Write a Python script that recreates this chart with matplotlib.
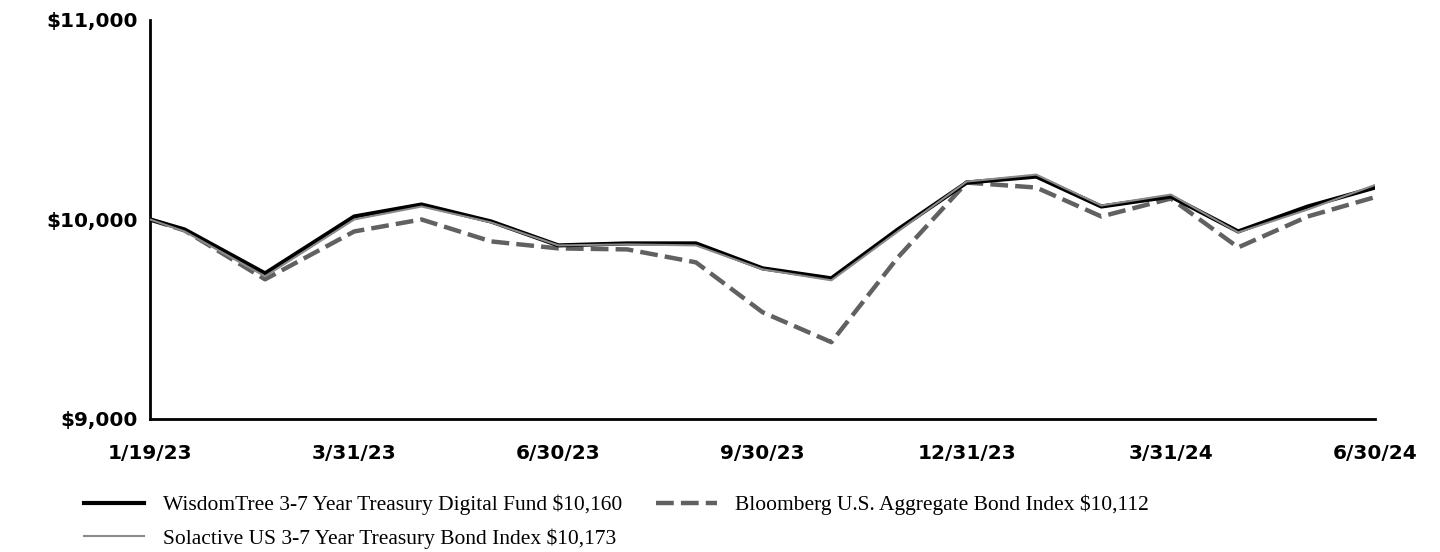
import numpy as np
import pandas as pd
import matplotlib
matplotlib.use("Agg")
import matplotlib.pyplot as plt
import matplotlib.ticker as mticker
import matplotlib.dates as mdates

# ------------------ Data ------------------
dates = ["2023-01-19", "2023-01-31", "2023-02-28", "2023-03-31", "2023-04-30",
         "2023-05-31", "2023-06-30", "2023-07-31", "2023-08-31", "2023-09-30",
         "2023-10-31", "2023-11-30", "2023-12-31", "2024-01-31", "2024-02-29",
         "2024-03-31", "2024-04-30", "2024-05-31", "2024-06-30"]

fund = [10000, 9950, 9730, 10015, 10075, 9990, 9870, 9880, 9880, 9755,
        9705, 9950, 10185, 10215, 10065, 10115, 9940, 10065, 10160]
bloomberg = [10000, 9945, 9700, 9940, 10000, 9890, 9855, 9850, 9785, 9535,
             9385, 9810, 10185, 10160, 10015, 10105, 9860, 10015, 10112]
solactive = [10000, 9940, 9715, 10000, 10065, 9985, 9870, 9875, 9870, 9750,
             9695, 9940, 10190, 10225, 10070, 10125, 9935, 10050, 10173]

tick_dates = ["2023-01-19", "2023-03-31", "2023-06-30", "2023-09-30",
              "2023-12-31", "2024-03-31", "2024-06-30"]
tick_labels = ["1/19/23", "3/31/23", "6/30/23", "9/30/23", "12/31/23", "3/31/24", "6/30/24"]

labels = ["WisdomTree 3-7 Year Treasury Digital Fund $10,160",
          "Solactive US 3-7 Year Treasury Bond Index $10,173",
          "Bloomberg U.S. Aggregate Bond Index $10,112"]

# ------------------ Positions: ticks evenly spaced, dates interpolated between them ------------------
tick_num = mdates.date2num(pd.to_datetime(tick_dates))
x = np.interp(mdates.date2num(pd.to_datetime(dates)), tick_num, np.arange(len(tick_dates)))

# ------------------ Plot ------------------
fig = plt.figure(figsize=(14.4, 5.52), dpi=100)
ax = fig.add_axes([0.1042, 0.241, 0.8507, 0.7228])

l1, = ax.plot(x, fund, color="black", lw=3.0, zorder=3)
l3, = ax.plot(x, bloomberg, color="#616161", lw=3.2, dashes=(4, 1.6), zorder=2)
l2, = ax.plot(x, solactive, color="#8a8a8a", lw=1.5, zorder=4)

ax.set_xlim(0, len(tick_dates) - 1)
ax.set_ylim(9000, 11000)
ax.set_yticks([9000, 10000, 11000])
ax.yaxis.set_major_formatter(mticker.FuncFormatter(lambda v, p: f"${v:,.0f}"))
ax.set_xticks(np.arange(len(tick_dates)))
ax.set_xticklabels(tick_labels)

for lab in ax.get_xticklabels() + ax.get_yticklabels():
    lab.set_fontfamily("DejaVu Sans")
    lab.set_fontweight("bold")
    lab.set_fontsize(14.5)
ax.tick_params(axis="both", length=0)
ax.tick_params(axis="x", pad=18)
ax.tick_params(axis="y", pad=9)

for side in ["top", "right"]:
    ax.spines[side].set_visible(False)
for side in ["left", "bottom"]:
    ax.spines[side].set_linewidth(2)
    ax.spines[side].set_color("black")

fig.legend([l1, l2, l3], labels, ncol=2, loc="upper left",
           bbox_to_anchor=(0.045, 0.139), frameon=False,
           prop={"family": "Liberation Serif", "size": 15.5},
           handlelength=2.8, handletextpad=0.85, columnspacing=1.6,
           labelspacing=0.62)

fig.savefig("out.png", dpi=100)
